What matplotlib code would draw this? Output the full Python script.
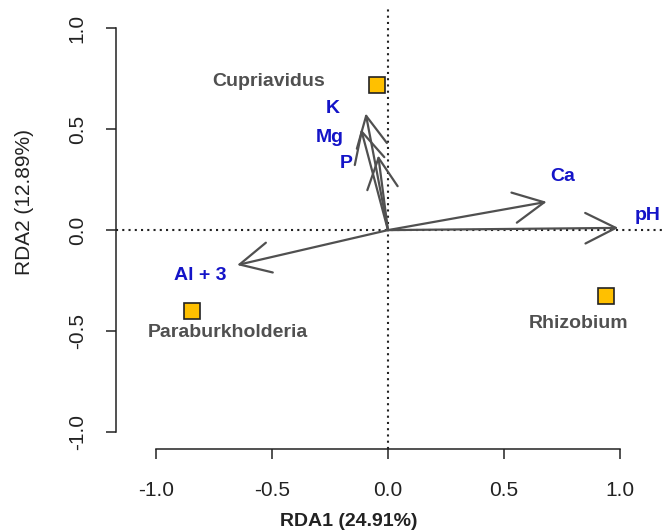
import matplotlib
matplotlib.use("Agg")
import matplotlib.pyplot as plt

# ---- data ----
species = ["Cupriavidus", "Paraburkholderia", "Rhizobium"]
sp_x = [-0.049, -0.846, 0.938]
sp_y = [0.72, -0.40, -0.325]
sp_lab_x = [-0.513, -0.69, 0.823]
sp_lab_y = [0.734, -0.505, -0.46]

env_names = ["pH", "Ca", "Al + 3", "K", "Mg", "P"]
env_x = [0.993, 0.684, -0.65, -0.096, -0.116, -0.042]
env_y = [0.011, 0.14, -0.173, 0.578, 0.50, 0.37]
env_lab_x = [1.12, 0.753, -0.81, -0.236, -0.25, -0.178]
env_lab_y = [0.074, 0.264, -0.223, 0.60, 0.46, 0.33]

xticks = [-1.0, -0.5, 0.0, 0.5, 1.0]
yticks = [-1.0, -0.5, 0.0, 0.5, 1.0]
xlabel = "RDA1 (24.91%)"
ylabel = "RDA2 (12.89%)"

plt.rcParams['font.family'] = ['Liberation Sans', 'DejaVu Sans']

W, H = 662, 532
fig = plt.figure(figsize=(W / 100, H / 100), dpi=100)
# axes from pixel 116 (left) to 662 (right), 8 (top) to 449 (bottom)
ax = fig.add_axes([116 / W, (H - 449) / H, (W - 116) / W, (449 - 8) / H])
ax.set_xlim(-1.172, 1.181)
ax.set_ylim(-1.084, 1.10)

for s in ["top", "right"]:
    ax.spines[s].set_visible(False)
ax.spines["left"].set_bounds(-1, 1)
ax.spines["bottom"].set_bounds(-1, 1)
for s in ["left", "bottom"]:
    ax.spines[s].set_linewidth(1.1)
    ax.spines[s].set_color("#222222")

ax.set_xticks(xticks)
ax.set_yticks(yticks)
ax.set_xticklabels([f"{t:.1f}" for t in xticks])
ax.set_yticklabels([f"{t:.1f}" for t in yticks], rotation=90, va="center")
ax.tick_params(axis="both", direction="out", length=7, width=1.1,
               labelsize=15, colors="#222222")
ax.tick_params(axis="x", pad=16)
ax.tick_params(axis="y", pad=14)

# reference lines
ax.axhline(0, color="#222222", lw=1.5, ls=(0, (1, 2)), zorder=1)
ax.axvline(0, color="#222222", lw=1.5, ls=(0, (1, 2)), zorder=1)

# arrows
for x, y in zip(env_x, env_y):
    ax.annotate("", xy=(x, y), xytext=(0, 0),
                arrowprops=dict(arrowstyle="->,head_length=2.2,head_width=1.1",
                                color="#505050", lw=1.6,
                                shrinkA=0, shrinkB=0), zorder=2)

for name, x, y in zip(env_names, env_lab_x, env_lab_y):
    ax.text(x, y, name, color="#1414c8", fontsize=14, fontweight="bold",
            ha="center", va="center", zorder=3)

# species
ax.plot(sp_x, sp_y, ls="none", marker="s", markersize=11,
        markerfacecolor="#FFC000", markeredgecolor="#222222",
        markeredgewidth=1.2, zorder=4)
for name, x, y in zip(species, sp_lab_x, sp_lab_y):
    ax.text(x, y, name, color="#505050", fontsize=14, fontweight="bold",
            ha="center", va="center", zorder=3)

fig.text(349 / W, 1 - 522 / H, xlabel, ha="center", va="center",
         fontsize=14, fontweight="bold", color="#222222")
fig.text(25 / W, 1 - 202 / H, ylabel, ha="center", va="center",
         fontsize=15, rotation=90, color="#222222")

fig.savefig("out.png", dpi=100)
